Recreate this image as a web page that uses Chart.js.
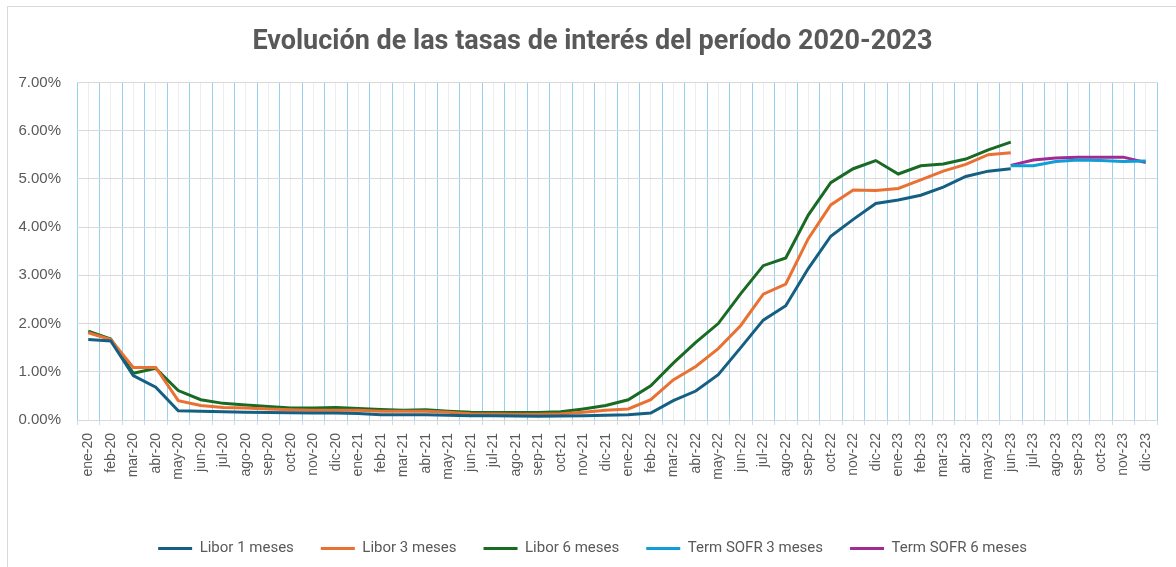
<!DOCTYPE html>
<html>
<head>
<meta charset="utf-8">
<script src="https://cdn.jsdelivr.net/npm/chart.js@4/dist/chart.umd.min.js"></script>
<style>
  html, body { margin: 0; padding: 0; background: #ffffff; }
  #wrap { position: relative; width: 1176px; height: 567px; overflow: hidden; }
  #frame { position: absolute; left: 7px; top: 6px; width: 1200px; height: 600px;
           border-left: 1px solid #d9d9d9; border-top: 1px solid #d9d9d9; }
  #box { position: absolute; left: 0; top: 0; width: 1176px; height: 567px; }
</style>
</head>
<body>
<div id="wrap">
  <div id="frame"></div>
  <div id="box"><canvas id="c"></canvas></div>
</div>
<script>
const categories = [
  'ene-20','feb-20','mar-20','abr-20','may-20','jun-20','jul-20','ago-20','sep-20','oct-20','nov-20','dic-20',
  'ene-21','feb-21','mar-21','abr-21','may-21','jun-21','jul-21','ago-21','sep-21','oct-21','nov-21','dic-21',
  'ene-22','feb-22','mar-22','abr-22','may-22','jun-22','jul-22','ago-22','sep-22','oct-22','nov-22','dic-22',
  'ene-23','feb-23','mar-23','abr-23','may-23','jun-23','jul-23','ago-23','sep-23','oct-23','nov-23','dic-23'
];

const libor1 = [1.67,1.64,0.92,0.68,0.19,0.18,0.17,0.16,0.155,0.15,0.145,0.145,
  0.135,0.11,0.11,0.11,0.10,0.09,0.09,0.085,0.08,0.085,0.09,0.10,
  0.11,0.145,0.40,0.60,0.94,1.50,2.07,2.37,3.14,3.81,4.16,4.49,
  4.56,4.66,4.83,5.05,5.16,5.21,null,null,null,null,null,null];

const libor3 = [1.81,1.67,1.09,1.09,0.40,0.30,0.26,0.25,0.23,0.21,0.20,0.20,
  0.20,0.18,0.18,0.18,0.16,0.13,0.125,0.12,0.12,0.13,0.16,0.20,
  0.23,0.42,0.83,1.11,1.48,1.96,2.61,2.82,3.76,4.46,4.77,4.76,
  4.80,4.98,5.16,5.30,5.50,5.54,null,null,null,null,null,null];

const libor6 = [1.84,1.68,0.97,1.07,0.61,0.42,0.345,0.31,0.28,0.25,0.25,0.26,
  0.24,0.22,0.20,0.21,0.18,0.16,0.155,0.155,0.155,0.17,0.23,0.30,
  0.42,0.71,1.18,1.61,2.00,2.62,3.20,3.36,4.25,4.92,5.21,5.38,
  5.10,5.27,5.31,5.41,5.60,5.76,null,null,null,null,null,null];

const sofr3 = [null,null,null,null,null,null,null,null,null,null,null,null,
  null,null,null,null,null,null,null,null,null,null,null,null,
  null,null,null,null,null,null,null,null,null,null,null,null,
  null,null,null,null,null,5.27,5.27,5.36,5.39,5.38,5.36,5.37];

const sofr6 = [null,null,null,null,null,null,null,null,null,null,null,null,
  null,null,null,null,null,null,null,null,null,null,null,null,
  null,null,null,null,null,null,null,null,null,null,null,null,
  null,null,null,null,null,5.28,5.39,5.43,5.45,5.45,5.45,5.34];

const seriesNames = ['Libor 1 meses','Libor 3 meses','Libor 6 meses','Term SOFR 3 meses','Term SOFR 6 meses'];
const seriesColors = ['#156082','#E97132','#196B24','#0F9ED5','#A02B93'];
const seriesValues = [libor1, libor3, libor6, sofr3, sofr6];

const yTickMin = 0, yTickMax = 7, yTickStep = 1;
const titleText = 'Evolución de las tasas de interés del período 2020-2023';

const textColor = '#595959';
const titleFont = "Roboto, 'Liberation Sans', sans-serif";
const regular = "'Liberation Sans', Arial, sans-serif";

const datasets = seriesValues.map((vals, i) => ({
  label: seriesNames[i],
  data: vals,
  borderColor: seriesColors[i],
  backgroundColor: seriesColors[i],
  borderWidth: 3,
  pointRadius: 0,
  pointHoverRadius: 0,
  tension: 0,
  spanGaps: false,
  fill: false,
  xAxisID: 'x',
  yAxisID: 'y'
}));

new Chart(document.getElementById('c'), {
  type: 'line',
  data: { labels: categories, datasets },
  options: {
    responsive: true,
    maintainAspectRatio: false,
    animation: false,
    layout: { padding: { left: 28, right: 19, top: 0, bottom: 1 } },
    plugins: {
      title: {
        display: true,
        text: titleText,
        color: textColor,
        font: { family: titleFont, size: 27, weight: 'bold' },
        padding: { top: 26, bottom: 24 }
      },
      legend: {
        position: 'bottom',
        labels: {
          color: textColor,
          font: { family: titleFont, size: 15 },
          usePointStyle: true,
          pointStyle: 'line',
          pointStyleWidth: 34,
          padding: 27
        }
      },
      tooltip: { enabled: false }
    },
    scales: {
      x: {
        type: 'category',
        position: 'bottom',
        offset: true,
        grid: {
          display: true,
          offset: true,
          color: '#98d0ef',
          lineWidth: 1,
          drawTicks: true,
          tickLength: 5,
          tickColor: '#d9d9d9'
        },
        border: { display: true, color: '#d9d9d9', width: 1 },
        ticks: {
          color: textColor,
          font: { family: regular, size: 14 },
          maxRotation: 90,
          minRotation: 90,
          autoSkip: false,
          padding: 8
        },
        afterFit: (s) => { s.height = 94; }
      },
      x2: {
        type: 'category',
        position: 'top',
        labels: categories,
        offset: true,
        grid: { display: true, offset: false, color: '#ededed', drawTicks: false },
        border: { display: false },
        ticks: { display: false },
        afterFit: (s) => { s.height = 0; }
      },
      y: {
        min: yTickMin,
        max: yTickMax,
        grid: { color: '#d9d9d9', drawTicks: false },
        border: { display: false },
        ticks: {
          stepSize: yTickStep,
          color: textColor,
          font: { family: regular, size: 15 },
          padding: 16,
          callback: (v) => Number(v).toFixed(2) + '%'
        },
        afterFit: (s) => {
          s.width = 49;
          s._computeLabelArea = () => undefined;
        }
      }
    }
  }
});
</script>
</body>
</html>
